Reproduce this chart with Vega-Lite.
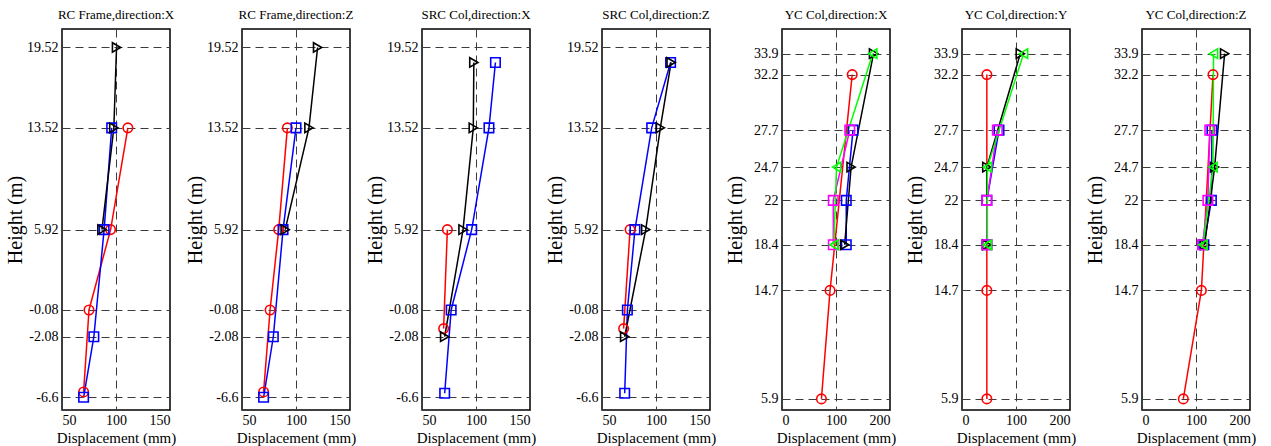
{
  "$schema": "https://vega.github.io/schema/vega-lite/v6.json",
  "background": "white",
  "padding": {"left": 4, "top": 8, "right": 5, "bottom": 0},
  "bounds": "flush",
  "spacing": 72,
  "datasets": {
    "d": [
      {"p": 1, "s": "red", "x": 111, "h": 13.52},
      {"p": 1, "s": "red", "x": 95, "h": 5.92},
      {"p": 1, "s": "red", "x": 75, "h": -0.08},
      {"p": 1, "s": "red", "x": 70, "h": -6.2},
      {"p": 1, "s": "blue", "x": 96, "h": 13.52},
      {"p": 1, "s": "blue", "x": 89, "h": 5.92},
      {"p": 1, "s": "blue", "x": 79.5, "h": -2.08},
      {"p": 1, "s": "blue", "x": 70, "h": -6.6},
      {"p": 1, "s": "black", "x": 100.5, "h": 19.52},
      {"p": 1, "s": "black", "x": 98, "h": 13.52},
      {"p": 1, "s": "black", "x": 87, "h": 5.92},

      {"p": 2, "s": "red", "x": 92, "h": 13.52},
      {"p": 2, "s": "red", "x": 84, "h": 5.92},
      {"p": 2, "s": "red", "x": 76, "h": -0.08},
      {"p": 2, "s": "red", "x": 70, "h": -6.2},
      {"p": 2, "s": "blue", "x": 100, "h": 13.52},
      {"p": 2, "s": "blue", "x": 88, "h": 5.92},
      {"p": 2, "s": "blue", "x": 79, "h": -2.08},
      {"p": 2, "s": "blue", "x": 70, "h": -6.6},
      {"p": 2, "s": "black", "x": 120, "h": 19.52},
      {"p": 2, "s": "black", "x": 112, "h": 13.52},
      {"p": 2, "s": "black", "x": 90, "h": 5.92},

      {"p": 3, "s": "red", "x": 73.5, "h": 5.92},
      {"p": 3, "s": "red", "x": 70, "h": -1.47},
      {"p": 3, "s": "blue", "x": 118, "h": 18.4},
      {"p": 3, "s": "blue", "x": 112, "h": 13.52},
      {"p": 3, "s": "blue", "x": 96, "h": 5.92},
      {"p": 3, "s": "blue", "x": 77, "h": -0.08},
      {"p": 3, "s": "blue", "x": 71, "h": -6.3},
      {"p": 3, "s": "black", "x": 98, "h": 18.4},
      {"p": 3, "s": "black", "x": 97.5, "h": 13.52},
      {"p": 3, "s": "black", "x": 88, "h": 5.92},
      {"p": 3, "s": "black", "x": 71, "h": -2.08},

      {"p": 4, "s": "red", "x": 76, "h": 5.92},
      {"p": 4, "s": "red", "x": 70, "h": -1.47},
      {"p": 4, "s": "blue", "x": 113.5, "h": 18.4},
      {"p": 4, "s": "blue", "x": 96, "h": 13.52},
      {"p": 4, "s": "blue", "x": 80.5, "h": 5.92},
      {"p": 4, "s": "blue", "x": 73.5, "h": -0.08},
      {"p": 4, "s": "blue", "x": 71, "h": -6.3},
      {"p": 4, "s": "black", "x": 114, "h": 18.4},
      {"p": 4, "s": "black", "x": 104, "h": 13.52},
      {"p": 4, "s": "black", "x": 90.5, "h": 5.92},
      {"p": 4, "s": "black", "x": 71, "h": -2.08},

      {"p": 5, "s": "red", "x": 130, "h": 32.2},
      {"p": 5, "s": "red", "x": 89, "h": 14.7},
      {"p": 5, "s": "red", "x": 73, "h": 5.9},
      {"p": 5, "s": "blue", "x": 131.5, "h": 27.7},
      {"p": 5, "s": "blue", "x": 119, "h": 22},
      {"p": 5, "s": "blue", "x": 119, "h": 18.4},
      {"p": 5, "s": "black", "x": 169.5, "h": 33.9},
      {"p": 5, "s": "black", "x": 128, "h": 24.7},
      {"p": 5, "s": "black", "x": 116, "h": 18.4},
      {"p": 5, "s": "magenta", "x": 125.5, "h": 27.7},
      {"p": 5, "s": "magenta", "x": 95, "h": 22},
      {"p": 5, "s": "magenta", "x": 95, "h": 18.4},
      {"p": 5, "s": "green", "x": 168, "h": 33.9},
      {"p": 5, "s": "green", "x": 101, "h": 24.7},
      {"p": 5, "s": "green", "x": 96, "h": 18.4},

      {"p": 6, "s": "red", "x": 46, "h": 32.2},
      {"p": 6, "s": "red", "x": 46, "h": 14.7},
      {"p": 6, "s": "red", "x": 46, "h": 5.9},
      {"p": 6, "s": "blue", "x": 68.5, "h": 27.7},
      {"p": 6, "s": "blue", "x": 46, "h": 22},
      {"p": 6, "s": "blue", "x": 46, "h": 18.4},
      {"p": 6, "s": "black", "x": 108, "h": 33.9},
      {"p": 6, "s": "black", "x": 46, "h": 24.7},
      {"p": 6, "s": "black", "x": 46, "h": 18.4},
      {"p": 6, "s": "magenta", "x": 65.5, "h": 27.7},
      {"p": 6, "s": "magenta", "x": 46, "h": 22},
      {"p": 6, "s": "magenta", "x": 46, "h": 18.4},
      {"p": 6, "s": "green", "x": 114, "h": 33.9},
      {"p": 6, "s": "green", "x": 47, "h": 24.7},
      {"p": 6, "s": "green", "x": 47, "h": 18.4},

      {"p": 7, "s": "red", "x": 131.5, "h": 32.2},
      {"p": 7, "s": "red", "x": 110, "h": 14.7},
      {"p": 7, "s": "red", "x": 76.5, "h": 5.9},
      {"p": 7, "s": "blue", "x": 129.5, "h": 27.7},
      {"p": 7, "s": "blue", "x": 128.5, "h": 22},
      {"p": 7, "s": "blue", "x": 114.5, "h": 18.4},
      {"p": 7, "s": "black", "x": 153, "h": 33.9},
      {"p": 7, "s": "black", "x": 134.5, "h": 24.7},
      {"p": 7, "s": "black", "x": 116, "h": 18.4},
      {"p": 7, "s": "magenta", "x": 125.5, "h": 27.7},
      {"p": 7, "s": "magenta", "x": 122, "h": 22},
      {"p": 7, "s": "magenta", "x": 112, "h": 18.4},
      {"p": 7, "s": "green", "x": 132.5, "h": 33.9},
      {"p": 7, "s": "green", "x": 131.5, "h": 24.7},
      {"p": 7, "s": "green", "x": 113, "h": 18.4}
    ]
  },
  "data": {"name": "d"},
  "resolve": {"scale": {"x": "independent", "y": "independent"}},
  "hconcat": [
    {
      "width": 108, "height": 381,
      "title": {"text": "RC Frame,direction:X"},
      "transform": [{"filter": "datum.p == 1"}],
      "encoding": {
        "x": {"field": "x", "type": "quantitative", "scale": {"domain": [50, 150], "nice": false, "zero": false}, "axis": {"values": [50, 100, 150], "title": "Displacement (mm)"}},
        "y": {"field": "h", "type": "quantitative", "scale": {"domain": [-7.55, 20.9], "nice": false, "zero": false}, "axis": {"values": [-6.6, -2.08, -0.08, 5.92, 13.52, 19.52], "title": "Height (m)"}},
        "color": {"field": "s", "type": "nominal", "scale": {"domain": ["red", "blue", "black", "magenta", "green"], "range": ["#ff0000", "#0000ff", "#000000", "#ff00ff", "#00ff00"]}, "legend": null}
      },
      "layer": [
        {"mark": {"type": "line", "strokeWidth": 1.5}, "encoding": {"order": {"field": "h", "type": "quantitative"}}},
        {"mark": {"type": "point", "filled": false, "strokeWidth": 1.6, "size": 90, "opacity": 1}, "encoding": {"shape": {"field": "s", "type": "nominal", "scale": {"domain": ["red", "blue", "black", "magenta", "green"], "range": ["circle", "square", "triangle-right", "square", "triangle-left"]}, "legend": null}}}
      ]
    },
    {
      "width": 108, "height": 381,
      "title": {"text": "RC Frame,direction:Z"},
      "transform": [{"filter": "datum.p == 2"}],
      "encoding": {
        "x": {"field": "x", "type": "quantitative", "scale": {"domain": [50, 150], "nice": false, "zero": false}, "axis": {"values": [50, 100, 150], "title": "Displacement (mm)"}},
        "y": {"field": "h", "type": "quantitative", "scale": {"domain": [-7.55, 20.9], "nice": false, "zero": false}, "axis": {"values": [-6.6, -2.08, -0.08, 5.92, 13.52, 19.52], "title": "Height (m)"}},
        "color": {"field": "s", "type": "nominal", "scale": {"domain": ["red", "blue", "black", "magenta", "green"], "range": ["#ff0000", "#0000ff", "#000000", "#ff00ff", "#00ff00"]}, "legend": null}
      },
      "layer": [
        {"mark": {"type": "line", "strokeWidth": 1.5}, "encoding": {"order": {"field": "h", "type": "quantitative"}}},
        {"mark": {"type": "point", "filled": false, "strokeWidth": 1.6, "size": 90, "opacity": 1}, "encoding": {"shape": {"field": "s", "type": "nominal", "scale": {"domain": ["red", "blue", "black", "magenta", "green"], "range": ["circle", "square", "triangle-right", "square", "triangle-left"]}, "legend": null}}}
      ]
    },
    {
      "width": 108, "height": 381,
      "title": {"text": "SRC Col,direction:X"},
      "transform": [{"filter": "datum.p == 3"}],
      "encoding": {
        "x": {"field": "x", "type": "quantitative", "scale": {"domain": [50, 150], "nice": false, "zero": false}, "axis": {"values": [50, 100, 150], "title": "Displacement (mm)"}},
        "y": {"field": "h", "type": "quantitative", "scale": {"domain": [-7.55, 20.9], "nice": false, "zero": false}, "axis": {"values": [-6.6, -2.08, -0.08, 5.92, 13.52, 19.52], "title": "Height (m)"}},
        "color": {"field": "s", "type": "nominal", "scale": {"domain": ["red", "blue", "black", "magenta", "green"], "range": ["#ff0000", "#0000ff", "#000000", "#ff00ff", "#00ff00"]}, "legend": null}
      },
      "layer": [
        {"mark": {"type": "line", "strokeWidth": 1.5}, "encoding": {"order": {"field": "h", "type": "quantitative"}}},
        {"mark": {"type": "point", "filled": false, "strokeWidth": 1.6, "size": 90, "opacity": 1}, "encoding": {"shape": {"field": "s", "type": "nominal", "scale": {"domain": ["red", "blue", "black", "magenta", "green"], "range": ["circle", "square", "triangle-right", "square", "triangle-left"]}, "legend": null}}}
      ]
    },
    {
      "width": 108, "height": 381,
      "title": {"text": "SRC Col,direction:Z"},
      "transform": [{"filter": "datum.p == 4"}],
      "encoding": {
        "x": {"field": "x", "type": "quantitative", "scale": {"domain": [50, 150], "nice": false, "zero": false}, "axis": {"values": [50, 100, 150], "title": "Displacement (mm)"}},
        "y": {"field": "h", "type": "quantitative", "scale": {"domain": [-7.55, 20.9], "nice": false, "zero": false}, "axis": {"values": [-6.6, -2.08, -0.08, 5.92, 13.52, 19.52], "title": "Height (m)"}},
        "color": {"field": "s", "type": "nominal", "scale": {"domain": ["red", "blue", "black", "magenta", "green"], "range": ["#ff0000", "#0000ff", "#000000", "#ff00ff", "#00ff00"]}, "legend": null}
      },
      "layer": [
        {"mark": {"type": "line", "strokeWidth": 1.5}, "encoding": {"order": {"field": "h", "type": "quantitative"}}},
        {"mark": {"type": "point", "filled": false, "strokeWidth": 1.6, "size": 90, "opacity": 1}, "encoding": {"shape": {"field": "s", "type": "nominal", "scale": {"domain": ["red", "blue", "black", "magenta", "green"], "range": ["circle", "square", "triangle-right", "square", "triangle-left"]}, "legend": null}}}
      ]
    },
    {
      "width": 108, "height": 381,
      "title": {"text": "YC Col,direction:X"},
      "transform": [{"filter": "datum.p == 5"}],
      "encoding": {
        "x": {"field": "x", "type": "quantitative", "scale": {"domain": [0, 200], "nice": false, "zero": false}, "axis": {"values": [0, 100, 200], "title": "Displacement (mm)"}},
        "y": {"field": "h", "type": "quantitative", "scale": {"domain": [5, 35.9], "nice": false, "zero": false}, "axis": {"values": [5.9, 14.7, 18.4, 22, 24.7, 27.7, 32.2, 33.9], "title": "Height (m)"}},
        "color": {"field": "s", "type": "nominal", "scale": {"domain": ["red", "blue", "black", "magenta", "green"], "range": ["#ff0000", "#0000ff", "#000000", "#ff00ff", "#00ff00"]}, "legend": null}
      },
      "layer": [
        {"mark": {"type": "line", "strokeWidth": 1.5}, "encoding": {"order": {"field": "h", "type": "quantitative"}}},
        {"mark": {"type": "point", "filled": false, "strokeWidth": 1.6, "size": 90, "opacity": 1}, "encoding": {"shape": {"field": "s", "type": "nominal", "scale": {"domain": ["red", "blue", "black", "magenta", "green"], "range": ["circle", "square", "triangle-right", "square", "triangle-left"]}, "legend": null}}}
      ]
    },
    {
      "width": 108, "height": 381,
      "title": {"text": "YC Col,direction:Y"},
      "transform": [{"filter": "datum.p == 6"}],
      "encoding": {
        "x": {"field": "x", "type": "quantitative", "scale": {"domain": [0, 200], "nice": false, "zero": false}, "axis": {"values": [0, 100, 200], "title": "Displacement (mm)"}},
        "y": {"field": "h", "type": "quantitative", "scale": {"domain": [5, 35.9], "nice": false, "zero": false}, "axis": {"values": [5.9, 14.7, 18.4, 22, 24.7, 27.7, 32.2, 33.9], "title": "Height (m)"}},
        "color": {"field": "s", "type": "nominal", "scale": {"domain": ["red", "blue", "black", "magenta", "green"], "range": ["#ff0000", "#0000ff", "#000000", "#ff00ff", "#00ff00"]}, "legend": null}
      },
      "layer": [
        {"mark": {"type": "line", "strokeWidth": 1.5}, "encoding": {"order": {"field": "h", "type": "quantitative"}}},
        {"mark": {"type": "point", "filled": false, "strokeWidth": 1.6, "size": 90, "opacity": 1}, "encoding": {"shape": {"field": "s", "type": "nominal", "scale": {"domain": ["red", "blue", "black", "magenta", "green"], "range": ["circle", "square", "triangle-right", "square", "triangle-left"]}, "legend": null}}}
      ]
    },
    {
      "width": 108, "height": 381,
      "title": {"text": "YC Col,direction:Z"},
      "transform": [{"filter": "datum.p == 7"}],
      "encoding": {
        "x": {"field": "x", "type": "quantitative", "scale": {"domain": [0, 200], "nice": false, "zero": false}, "axis": {"values": [0, 100, 200], "title": "Displacement (mm)"}},
        "y": {"field": "h", "type": "quantitative", "scale": {"domain": [5, 35.9], "nice": false, "zero": false}, "axis": {"values": [5.9, 14.7, 18.4, 22, 24.7, 27.7, 32.2, 33.9], "title": "Height (m)"}},
        "color": {"field": "s", "type": "nominal", "scale": {"domain": ["red", "blue", "black", "magenta", "green"], "range": ["#ff0000", "#0000ff", "#000000", "#ff00ff", "#00ff00"]}, "legend": null}
      },
      "layer": [
        {"mark": {"type": "line", "strokeWidth": 1.5}, "encoding": {"order": {"field": "h", "type": "quantitative"}}},
        {"mark": {"type": "point", "filled": false, "strokeWidth": 1.6, "size": 90, "opacity": 1}, "encoding": {"shape": {"field": "s", "type": "nominal", "scale": {"domain": ["red", "blue", "black", "magenta", "green"], "range": ["circle", "square", "triangle-right", "square", "triangle-left"]}, "legend": null}}}
      ]
    }
  ],
  "config": {
    "font": "Liberation Serif",
    "view": {"stroke": "#000000", "strokeWidth": 1.5},
    "axis": {
      "grid": true, "gridDash": [8, 5], "gridColor": "#3c3c3c", "gridWidth": 1, "gridOpacity": 1,
      "domain": false, "ticks": false,
      "labelFont": "Liberation Serif", "labelFontSize": 14, "labelColor": "#000000",
      "labelExpr": "'' + datum.value",
      "titleFont": "Liberation Serif", "titleColor": "#000000", "titleFontWeight": "normal"
    },
    "axisY": {"titleFontSize": 20, "labelPadding": 4, "minExtent": 34, "maxExtent": 34, "titlePadding": 3},
    "axisX": {"titleFontSize": 15, "labelPadding": 3, "titlePadding": 3},
    "title": {"font": "Liberation Serif", "fontSize": 13, "fontWeight": "normal", "color": "#000000", "offset": 7, "frame": "group", "anchor": "middle"}
  }
}
